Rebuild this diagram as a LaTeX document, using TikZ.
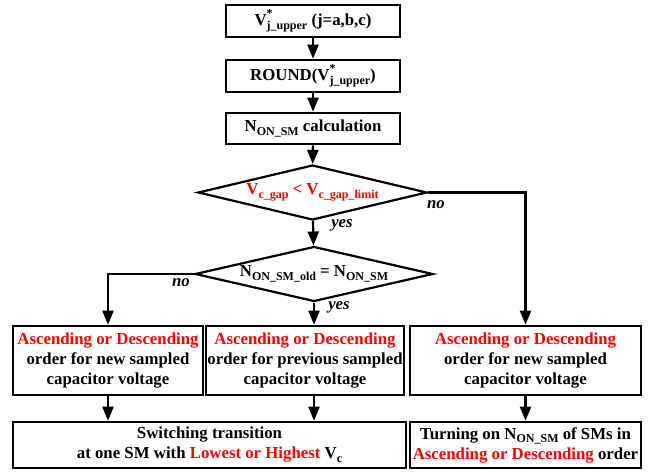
\documentclass[tikz,border=0pt]{standalone}
\usepackage{fontspec}
\setmainfont{Liberation Serif}
\usetikzlibrary{shapes.geometric,arrows.meta,calc}
\newcommand{\subx}[1]{\raisebox{-0.45ex}{\fontsize{12}{12}\selectfont #1}}
\newcommand{\supx}[1]{\raisebox{1.05ex}{\fontsize{12}{12}\selectfont #1}}
\newcommand{\hl}[1]{\textcolor{red}{#1}}

\begin{document}
\begin{tikzpicture}[x=1pt,y=-1pt,
  every node/.style={font=\fontsize{16.8}{20}\selectfont\bfseries},
  box/.style={draw, line width=2.6pt, align=center, inner sep=0pt},
  cond/.style={draw, diamond, line width=2.2pt, inner sep=0pt, aspect=4},
  flow/.style={line width=2.2pt, -{Triangle[length=14pt,width=11pt]}},
  lbl/.style={font=\fontsize{16.8}{20}\selectfont\bfseries\itshape}]
\useasboundingbox (0,0) rectangle (653,473);
% main column
\node[box, minimum width=174pt, minimum height=32pt] (vref) at (313,21) {V\rlap{\supx{*}}\subx{j\_upper} (j=a,b,c)};
\node[box, minimum width=174pt, minimum height=32pt] (round) at (313,76) {ROUND(V\rlap{\supx{*}}\subx{j\_upper})};
\node[box, minimum width=174pt, minimum height=31pt] (ncalc) at (313,128.5) {N\subx{ON\_SM} calculation};
\node[cond, minimum width=229pt, minimum height=55pt] (gap) at (312.5,192.5) {\hl{V\subx{c\_gap} < V\subx{c\_gap\_limit}}};
\node[cond, minimum width=238pt, minimum height=55pt] (same) at (314,274) {N\subx{ON\_SM\_old} = N\subx{ON\_SM}};
% sorting boxes
\node[box, minimum width=190pt, minimum height=69pt] (sortnew) at (108,360.5) {\hl{Ascending or Descending}\\order for new sampled\\capacitor voltage};
\node[box, minimum width=198pt, minimum height=69pt] (sortprev) at (305,360.5) {\hl{Ascending or Descending}\\order for previous sampled\\capacitor voltage};
\node[box, minimum width=231pt, minimum height=69pt] (sortall) at (525.5,360.5) {\hl{Ascending or Descending}\\order for new sampled\\capacitor voltage};
% final actions
\node[box, minimum width=393pt, minimum height=46pt] (switch) at (209.5,445) {Switching transition\\at one SM with \hl{Lowest or Highest} V\subx{c}};
\node[box, minimum width=231pt, minimum height=46pt] (turnon) at (525.5,445) {Turning on N\subx{ON\_SM} of SMs in\\\hl{Ascending or Descending} order};
% connectors
\draw[flow] (vref) -- (round);
\draw[flow] (round) -- (ncalc);
\draw[flow] (ncalc) -- (gap);
\draw[flow] (gap) -- (same);
\draw[flow] (gap.east) -| (sortall.north);
\draw[flow] (same.west) -| (sortnew.north);
\draw[flow] (same.south) -- (same.south |- sortprev.north);
\draw[flow] (sortnew) -- (sortnew.south |- switch.north);
\draw[flow] (sortprev.south -| same.south) -- (switch.north -| same.south);
\draw[flow] (sortall) -- (turnon);
% branch labels
\node[lbl] (noA) at (436,205) {no};
\node[lbl] (yesA) at (342,225) {yes};
\node[lbl] (noB) at (181,283) {no};
\node[lbl] (yesB) at (339,307) {yes};
\end{tikzpicture}
\end{document}
